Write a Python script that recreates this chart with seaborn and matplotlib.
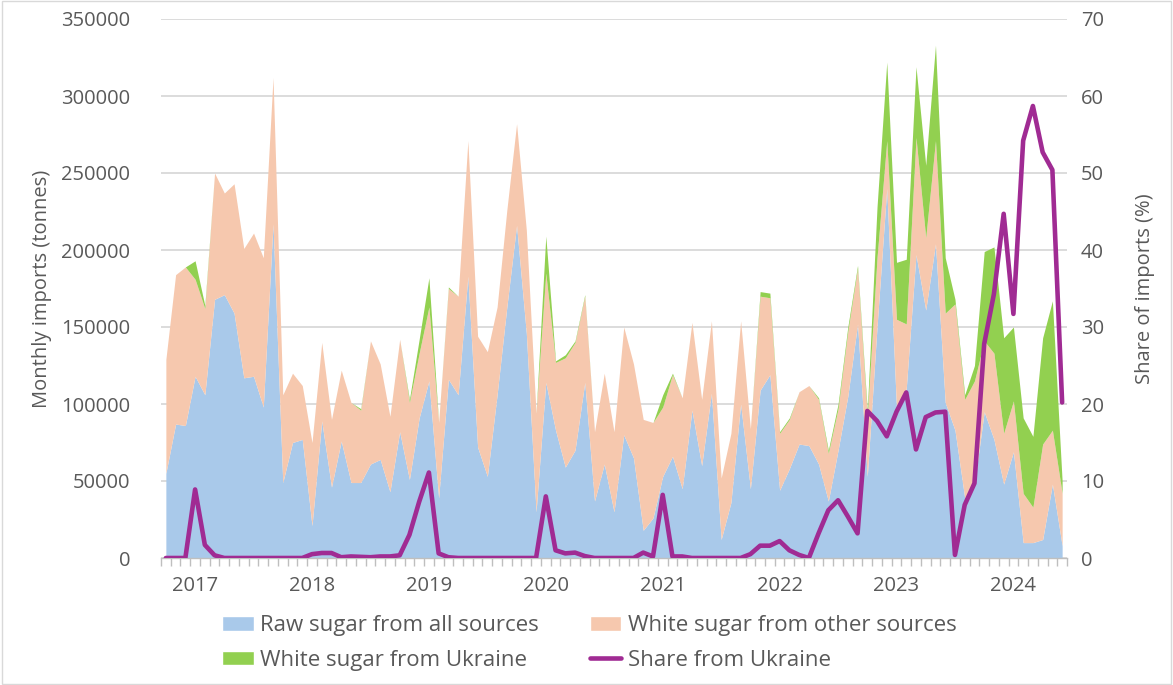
import matplotlib
matplotlib.use("Agg")
import matplotlib.pyplot as plt
import seaborn as sns
import numpy as np
import pandas as pd
from matplotlib.patches import Patch, Rectangle
from matplotlib.lines import Line2D

# monthly data, Oct 2016 - Jun 2024 (thousand tonnes)
raw_sugar = [55, 87, 86, 118, 106, 168, 171, 159, 117, 118, 98, 217,
             49, 75, 77, 21, 89, 46, 76, 49, 49, 61, 64, 43,
             82, 51, 91, 115, 39, 116, 106, 183, 72, 53, 106, 163,
             216, 146, 30, 114, 83, 59, 70, 114, 37, 61, 30, 80,
             65, 18, 26, 53, 66, 45, 96, 60, 107, 12, 36, 100,
             45, 109, 119, 44, 58, 74, 73, 61, 37, 70, 105, 152,
             53, 150, 240, 97, 110, 197, 161, 204, 101, 83, 39, 48,
             95, 77, 48, 69, 10, 10, 12, 48, 8]
white_other = [74, 97, 103, 63, 56, 82, 66, 84, 84, 93, 97, 95,
               57, 45, 35, 54, 51, 44, 46, 52, 47, 80, 62, 49,
               60, 50, 42, 48, 49, 59, 64, 88, 72, 81, 57, 63,
               66, 67, 64, 71, 44, 71, 70, 56, 45, 59, 52, 70,
               61, 72, 62, 45, 53, 59, 57, 43, 47, 40, 45, 54,
               39, 61, 50, 37, 32, 34, 39, 42, 31, 27, 42, 36,
               39, 45, 31, 58, 42, 76, 47, 67, 58, 82, 64, 67,
               46, 56, 33, 33, 32, 23, 62, 35, 34]
white_ukraine = [0, 0, 0, 12, 2, 0, 0, 0, 0, 0, 0, 0,
                 0, 0, 0, 0, 0, 0, 0, 0, 1, 0, 0, 0,
                 0, 2, 9, 19, 0, 1, 0, 0, 0, 0, 0, 0,
                 0, 0, 0, 24, 1, 2, 1, 1, 0, 0, 0, 0,
                 0, 0, 0, 8, 1, 0, 0, 0, 0, 0, 0, 0,
                 0, 3, 3, 1, 1, 0, 0, 1, 2, 3, 3, 2,
                 4, 33, 51, 37, 42, 46, 47, 62, 36, 3, 3, 10,
                 58, 69, 62, 48, 49, 46, 69, 84, 8]
share_ukraine = [0, 0, 0, 8.9, 1.7, 0.35, 0, 0, 0, 0, 0, 0,
                 0, 0, 0, 0.5, 0.65, 0.65, 0.1, 0.2, 0.15, 0.1, 0.2, 0.2,
                 0.35, 3.0, 7.3, 11.1, 0.6, 0.1, 0, 0, 0, 0, 0, 0,
                 0, 0, 0, 8.0, 1.0, 0.6, 0.7, 0.25, 0, 0, 0, 0,
                 0, 0.7, 0.2, 8.2, 0.2, 0.2, 0, 0, 0, 0, 0, 0,
                 0.5, 1.6, 1.6, 2.2, 1.0, 0.4, 0, 3.2, 6.2, 7.5, 5.4, 3.2,
                 19.1, 17.8, 15.8, 19.0, 21.5, 14.1, 18.3, 18.9, 19.0, 0.4, 6.9, 9.7,
                 27.8, 34.3, 44.7, 31.7, 54.2, 58.7, 52.7, 50.4, 20.2]
year_labels = ["2017", "2018", "2019", "2020", "2021", "2022", "2023", "2024"]

months = pd.date_range("2016-10-01", periods=len(raw_sugar), freq="MS")
df = pd.DataFrame({
    "month": months,
    "pos": np.arange(len(months)),
    "raw": np.array(raw_sugar) * 1000,
    "other": np.array(white_other) * 1000,
    "ukraine": np.array(white_ukraine) * 1000,
    "share": share_ukraine,
})

blue = "#a9c9ea"
peach = "#f6c8ae"
green = "#92d050"
purple = "#a02b93"
grey_text = "#595959"

sns.set_theme(style="white")
plt.rcParams["font.family"] = ["Open Sans", "DejaVu Sans"]

fig = plt.figure(figsize=(11.73, 6.85), dpi=100)
ax = fig.add_axes([161 / 1173, 127 / 685, 906 / 1173, 539 / 685])

ax.stackplot(df["pos"], df["raw"], df["other"], df["ukraine"],
             colors=[blue, peach, green], linewidth=0)

ax.set_xlim(-0.5, len(df) - 0.5)
ax.set_ylim(0, 350000)
ax.set_yticks(range(0, 350001, 50000))
ax.set_yticklabels([str(v) for v in range(0, 350001, 50000)])
ax.grid(axis="y", color="#d9d9d9", linewidth=1.3)
ax.set_axisbelow(True)

jan_pos = df.loc[df["month"].dt.month == 1, "pos"].values
ax.set_xticks(jan_pos)
ax.set_xticklabels(year_labels)
ax.set_xticks(np.arange(-0.5, len(df), 1), minor=True)
ax.tick_params(axis="x", which="major", length=0, pad=13, labelsize=14.5, colors=grey_text)
ax.tick_params(axis="x", which="minor", length=6, width=1, color="#bfbfbf", bottom=True)
ax.tick_params(axis="y", length=0, pad=22, labelsize=14.5, colors=grey_text)
for side in ["top", "right", "left"]:
    ax.spines[side].set_visible(False)
ax.spines["bottom"].set_color("#bfbfbf")
ax.spines["bottom"].set_linewidth(1)
ax.set_ylabel("Monthly imports (tonnes)", fontsize=14.5, color=grey_text, labelpad=7)

ax2 = ax.twinx()
sns.lineplot(data=df, x="pos", y="share", ax=ax2, color=purple, linewidth=3.3)
ax2.set_ylim(0, 70)
ax2.set_yticks(range(0, 71, 10))
ax2.tick_params(axis="y", length=0, pad=10, labelsize=14.5, colors=grey_text)
ax2.set_xlim(-0.5, len(df) - 0.5)
ax2.set_xlabel("")
ax2.set_ylabel("Share of imports (%)", fontsize=14.5, color=grey_text, labelpad=22)
for side in ["top", "right", "left", "bottom"]:
    ax2.spines[side].set_visible(False)

handles = [
    Patch(facecolor=blue, label="Raw sugar from all sources"),
    Patch(facecolor=green, label="White sugar from Ukraine"),
    Patch(facecolor=peach, label="White sugar from other sources"),
    Line2D([0], [0], color=purple, linewidth=3.3, label="Share from Ukraine"),
]
leg = fig.legend(handles=handles, ncol=2, loc="center", bbox_to_anchor=(0.5026, 0.0613),
                 frameon=False, fontsize=16, handlelength=1.4, handleheight=0.6,
                 handletextpad=0.3, columnspacing=2.3, labelspacing=0.6)
for t in leg.get_texts():
    t.set_color(grey_text)

fig.patches.append(Rectangle((0.002, 0.002), 0.996, 0.996, transform=fig.transFigure,
                             fill=False, edgecolor="#d9d9d9", linewidth=1))

fig.savefig("out.png", dpi=100)
